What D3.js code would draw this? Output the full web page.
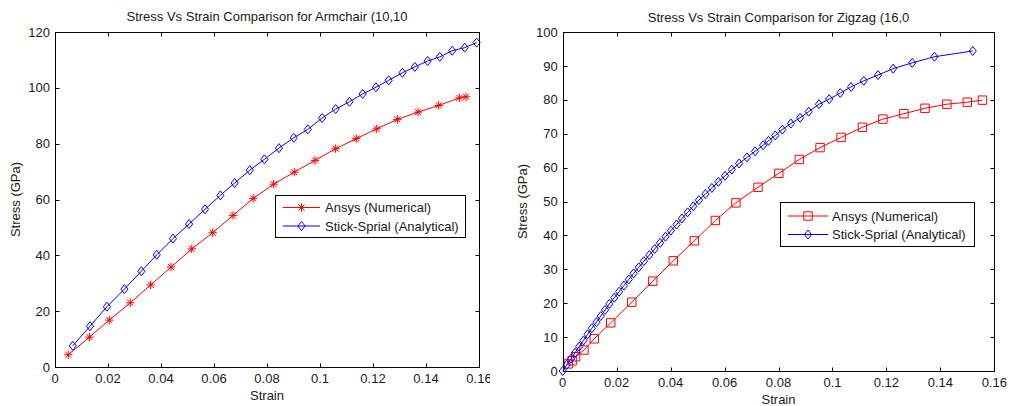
<!DOCTYPE html>
<html><head><meta charset="utf-8">
<script src="https://cdn.jsdelivr.net/npm/d3@7"></script>
<style>
html,body{margin:0;padding:0;background:#fff;}
svg{display:block;font-family:"Liberation Sans",Arial,Helvetica,sans-serif;}
</style></head>
<body>
<svg id="c" width="1010" height="406"></svg>
<script>
// ---------- data ----------
const seriesNames = ["Ansys (Numerical)", "Stick-Sprial (Analytical)"];

const armTitle = "Stress Vs Strain Comparison for Armchair (10,10";
const armXTicks = [0, 0.02, 0.04, 0.06, 0.08, 0.1, 0.12, 0.14, 0.16];
const armYTicks = [0, 20, 40, 60, 80, 100, 120];
const armStrainAnsys = [0.0050,0.0130,0.0205,0.0284,0.0361,0.0438,0.0516,0.0595,0.0672,0.0748,0.0825,0.0903,0.0981,0.1059,0.1137,0.1214,0.1292,0.1370,0.1448,0.1526,0.1551];
const armStressAnsys = [4.4,10.7,16.8,23.0,29.4,35.8,42.3,48.1,54.3,60.4,65.5,69.8,74.0,78.2,81.8,85.3,88.7,91.3,93.7,96.4,96.8];
const armStrainStick = [0.0067,0.0132,0.0196,0.0262,0.0326,0.0384,0.0445,0.0506,0.0566,0.0624,0.0678,0.0735,0.0790,0.0845,0.0901,0.0954,0.1008,0.1059,0.1111,0.1161,0.1211,0.1259,0.1311,0.1358,0.1406,0.1452,0.1499,0.1546,0.1591];
const armStressStick = [7.6,14.6,21.6,27.9,34.3,40.2,46.0,51.2,56.5,61.5,65.9,70.5,74.4,78.4,82.1,85.1,89.2,92.4,95.0,97.8,100.2,102.7,105.4,107.5,109.6,111.1,113.3,114.4,116.2];

const zigTitle = "Stress Vs Strain Comparison for Zigzag (16,0";
const zigXTicks = [0, 0.02, 0.04, 0.06, 0.08, 0.1, 0.12, 0.14, 0.16];
const zigYTicks = [0, 10, 20, 30, 40, 50, 60, 70, 80, 90, 100];
const zigStrainAnsys = [0.0021,0.0035,0.0048,0.0079,0.0117,0.0178,0.0256,0.0334,0.0410,0.0488,0.0566,0.0642,0.0724,0.0801,0.0877,0.0954,0.1032,0.1111,0.1187,0.1265,0.1343,0.1424,0.1500,0.1556];
const zigStressAnsys = [2.1,3.0,4.2,6.2,9.5,14.2,20.3,26.5,32.5,38.4,44.4,49.6,54.2,58.3,62.4,65.9,68.9,71.9,74.3,75.9,77.5,78.7,79.3,79.9];
const zigStrainStick = [0,0.0015,0.0031,0.0046,0.0061,0.0077,0.0092,0.0108,0.0125,0.0141,0.0157,0.0173,0.0191,0.0209,0.0227,0.0245,0.0263,0.0282,0.0301,0.0321,0.0341,0.0361,0.0381,0.0401,0.0422,0.0442,0.0463,0.0484,0.0505,0.0529,0.0553,0.0577,0.0602,0.0627,0.0654,0.0683,0.0713,0.0743,0.0763,0.0788,0.0814,0.0846,0.0880,0.0912,0.0950,0.0988,0.1029,0.1069,0.1116,0.1169,0.1225,0.1296,0.1378,0.1520];
const zigStressStick = [0,1.8,3.6,5.4,7.2,9.0,10.8,12.6,14.4,16.2,18.0,19.8,21.6,23.4,25.2,27.0,28.8,30.6,32.4,34.2,36.0,37.8,39.6,41.4,43.2,45.0,46.8,48.6,50.4,52.2,54.0,55.8,57.6,59.4,61.2,63.0,64.8,66.6,67.9,69.5,71.2,73.0,74.7,76.5,78.7,80.2,82.0,83.8,85.6,87.3,89.2,90.9,92.7,94.4];

// ---------- drawing ----------
const svg = d3.select("#c");
const TXT = "#1a1a1a";
const FS = 13;

const markers = {
  star: r => { const d = r * 0.72; return `M${-r},0L${r},0M0,${-r}L0,${r}M${-d},${-d}L${d},${d}M${-d},${d}L${d},${-d}`; },
  diamond: r => `M0,${-r*1.25}L${r},0L0,${r*1.25}L${-r},0Z`,
  square: r => `M${-r},${-r}L${r},${-r}L${r},${r}L${-r},${r}Z`
};

function panel(cfg) {
  const g = svg.append("g");
  if (cfg.clipW) {
    svg.append("clipPath").attr("id", cfg.id + "clip").append("rect")
      .attr("x", cfg.clipX).attr("y", 0).attr("width", cfg.clipW).attr("height", 406);
    g.attr("clip-path", `url(#${cfg.id}clip)`);
  }
  const x = d3.scaleLinear().domain([0, 0.16]).range([cfg.left, cfg.right]);
  const y = d3.scaleLinear().domain([0, cfg.yMax]).range([cfg.bottom, cfg.top]);
  const fmt = d3.format("~g");

  // data lines + markers
  const plot = g.append("g");
  cfg.series.forEach(s => {
    const pts = s.xs.map((v, i) => [v, s.ys[i]]);
    plot.append("path").datum(pts)
      .attr("d", d3.line().x(d => x(d[0])).y(d => y(d[1])))
      .attr("fill", "none").attr("stroke", s.color).attr("stroke-width", 1);
    plot.selectAll(null).data(pts).enter().append("path")
      .attr("transform", d => `translate(${x(d[0])},${y(d[1])})`)
      .attr("d", markers[s.marker](s.r))
      .attr("fill", "none").attr("stroke", s.color).attr("stroke-width", 1);
  });

  // box
  const L = Math.round(cfg.left) + 0.5, R = Math.round(cfg.right) + 0.5;
  const T = Math.round(cfg.top) + 0.5, B = Math.round(cfg.bottom) + 0.5;
  g.append("rect").attr("x", L).attr("y", T).attr("width", R - L).attr("height", B - T)
    .attr("fill", "none").attr("stroke", "#000").attr("stroke-width", 1);

  // ticks (inward, all four sides)
  const tl = 4;
  cfg.xTicks.forEach(t => {
    const px = Math.round(x(t)) + 0.5;
    g.append("line").attr("x1", px).attr("x2", px).attr("y1", B).attr("y2", B - tl).attr("stroke", "#000");
    g.append("line").attr("x1", px).attr("x2", px).attr("y1", T).attr("y2", T + tl).attr("stroke", "#000");
    g.append("text").attr("x", x(t)).attr("y", cfg.bottom + cfg.xLabOff)
      .attr("text-anchor", "middle").attr("font-size", FS).attr("fill", TXT).text(fmt(t));
  });
  cfg.yTicks.forEach(t => {
    const py = Math.round(y(t)) + 0.5;
    g.append("line").attr("x1", L).attr("x2", L + tl).attr("y1", py).attr("y2", py).attr("stroke", "#000");
    g.append("line").attr("x1", R).attr("x2", R - tl).attr("y1", py).attr("y2", py).attr("stroke", "#000");
    g.append("text").attr("x", cfg.left - 5).attr("y", y(t) + 4.6)
      .attr("text-anchor", "end").attr("font-size", FS).attr("fill", TXT).text(fmt(t));
  });

  // title & labels
  g.append("text").attr("x", (cfg.left + cfg.right) / 2).attr("y", cfg.titleY)
    .attr("text-anchor", "middle").attr("font-size", FS).attr("fill", TXT).text(cfg.title);
  g.append("text").attr("x", (cfg.left + cfg.right) / 2).attr("y", cfg.xTitleY)
    .attr("text-anchor", "middle").attr("font-size", FS).attr("fill", TXT).text("Strain");
  g.append("text").attr("transform", `translate(${cfg.yTitleX},${(cfg.top + cfg.bottom) / 2}) rotate(-90)`)
    .attr("text-anchor", "middle").attr("font-size", FS).attr("fill", TXT).text("Stress (GPa)");

  // legend
  const lg = cfg.legend;
  g.append("rect").attr("x", Math.round(lg.x) + 0.5).attr("y", Math.round(lg.y) + 0.5)
    .attr("width", lg.w).attr("height", lg.h).attr("fill", "#fff").attr("stroke", "#000");
  cfg.series.forEach((s, i) => {
    const ly = lg.rows[i];
    g.append("line").attr("x1", lg.lx1).attr("x2", lg.lx2).attr("y1", ly).attr("y2", ly)
      .attr("stroke", s.color).attr("stroke-width", 1);
    g.append("path").attr("transform", `translate(${(lg.lx1 + lg.lx2) / 2},${ly})`)
      .attr("d", markers[s.marker](s.r)).attr("fill", "none").attr("stroke", s.color);
    g.append("text").attr("x", lg.tx).attr("y", ly + 4.6).attr("font-size", FS).attr("fill", TXT)
      .text(seriesNames[i]);
  });
}

panel({
  id: "arm", clipX: 0, clipW: 490,
  left: 55, right: 479, top: 32, bottom: 367, yMax: 120,
  xTicks: armXTicks, yTicks: armYTicks, xLabOff: 15.5,
  title: armTitle, titleY: 21, xTitleY: 399.5, yTitleX: 20,
  series: [
    { xs: armStrainAnsys, ys: armStressAnsys, color: "#ff0000", marker: "star", r: 4.2 },
    { xs: armStrainStick, ys: armStressStick, color: "#0000ff", marker: "diamond", r: 3.6 }
  ],
  legend: { x: 275, y: 195, w: 190, h: 42, rows: [207.5, 226], lx1: 283, lx2: 320, tx: 325 }
});

panel({
  id: "zig",
  left: 562.7, right: 994.3, top: 32, bottom: 371, yMax: 100,
  xTicks: zigXTicks, yTicks: zigYTicks, xLabOff: 16.3,
  title: zigTitle, titleY: 22, xTitleY: 404, yTitleX: 527,
  series: [
    { xs: zigStrainAnsys, ys: zigStressAnsys, color: "#ff0000", marker: "square", r: 4.2 },
    { xs: zigStrainStick, ys: zigStressStick, color: "#0000ff", marker: "diamond", r: 3.6 }
  ],
  legend: { x: 780, y: 202, w: 194, h: 44, rows: [216, 234.5], lx1: 788, lx2: 828, tx: 832 }
});
</script>
</body></html>
